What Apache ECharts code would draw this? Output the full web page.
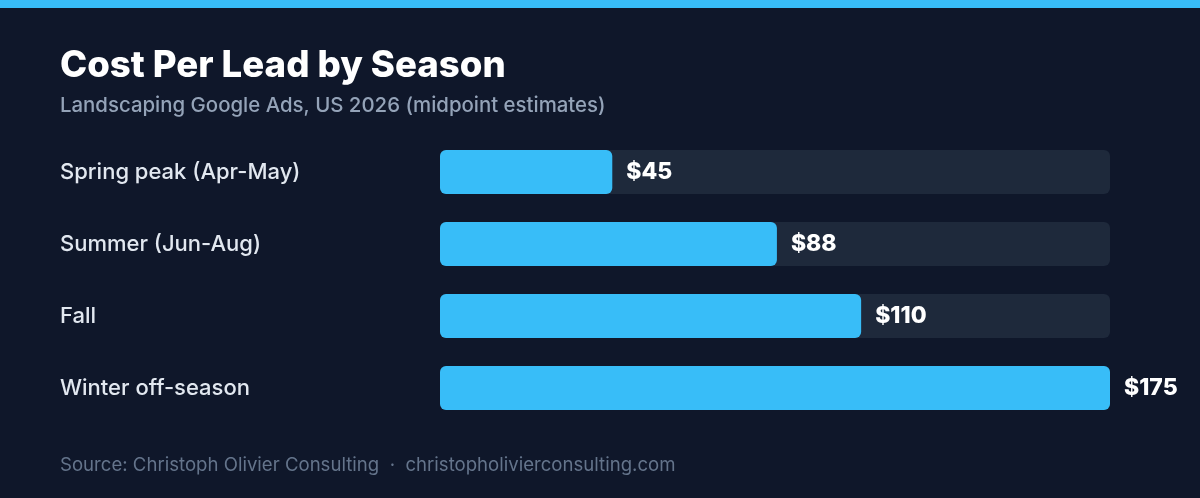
<!DOCTYPE html>
<html>
<head>
<meta charset="utf-8">
<script src="https://cdn.jsdelivr.net/npm/echarts@6/dist/echarts.min.js"></script>
<style>
html,body{margin:0;padding:0;background:#0f172a;}
#chart{width:1200px;height:498px;}
</style>
</head>
<body>
<div id="chart"></div>
<script>
const categories = ['Spring peak (Apr-May)', 'Summer (Jun-Aug)', 'Fall', 'Winter off-season'];
const costPerLead = [45, 88, 110, 175];
const titleText = 'Cost Per Lead by Season';
const subtitleText = 'Landscaping Google Ads, US 2026 (midpoint estimates)';
const footerText = 'Source: Christoph Olivier Consulting  \u00b7  christopholivierconsulting.com';

const maxVal = Math.max(...costPerLead);
const trackData = costPerLead.map(() => maxVal);
const FONT = 'Inter, "Noto Sans", sans-serif';

const chart = echarts.init(document.getElementById('chart'), null, {renderer: 'canvas'});
chart.setOption({
  backgroundColor: '#0f172a',
  animation: false,
  graphic: [{
    type: 'rect', left: 0, top: 0,
    shape: {width: 1200, height: 8},
    style: {fill: '#38bdf8'}
  }],
  title: [
    {text: titleText, left: 60, top: 47, padding: 0,
     textStyle: {color: '#ffffff', fontSize: 36.6, fontWeight: 800, fontFamily: FONT}},
    {text: subtitleText, left: 60, top: 96, padding: 0,
     textStyle: {color: '#94a3b8', fontSize: 20.4, fontWeight: 500, fontFamily: FONT}},
    {text: footerText, left: 60, top: 456, padding: 0,
     textStyle: {color: '#64748b', fontSize: 18.6, fontWeight: 'normal', fontFamily: FONT}}
  ],
  grid: {left: 440, right: 90, top: 136, bottom: 74, containLabel: false},
  xAxis: {
    type: 'value', min: 0, max: maxVal,
    show: false
  },
  yAxis: {
    type: 'category', data: categories, inverse: true,
    axisLine: {show: false}, axisTick: {show: false}, splitLine: {show: false},
    axisLabel: {
      align: 'left', margin: 380, color: '#e2e8f0',
      fontSize: 22, fontWeight: 500, fontFamily: FONT, padding: [2, 0, 0, 0]
    }
  },
  series: [
    {
      type: 'bar', data: trackData, barWidth: 44, silent: true,
      itemStyle: {color: '#1e293b', borderRadius: 6},
      z: 1
    },
    {
      type: 'bar', data: costPerLead, barWidth: 44, barGap: '-100%',
      itemStyle: {color: '#38bdf8', borderRadius: 6},
      label: {
        show: true, position: 'right', distance: 14,
        formatter: p => '$' + p.value,
        color: '#ffffff', fontSize: 23, fontWeight: 800, fontFamily: FONT
      },
      z: 2
    }
  ]
});
</script>
</body>
</html>
